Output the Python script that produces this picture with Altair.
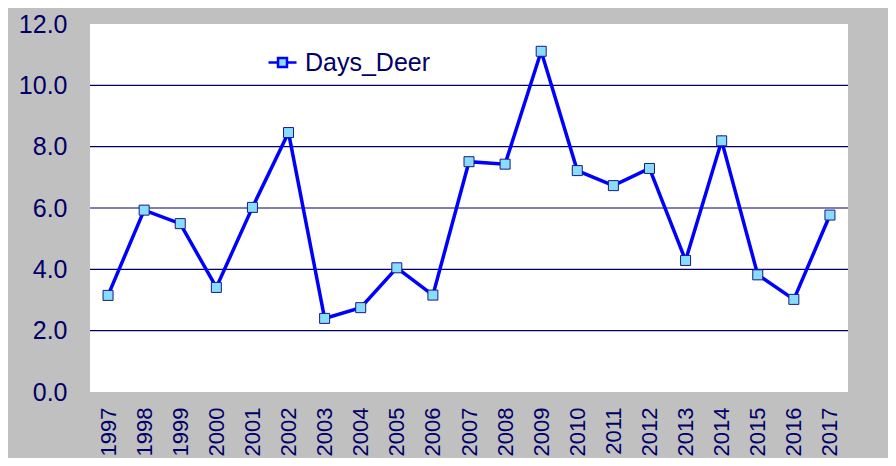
import altair as alt
import pandas as pd

years = [str(y) for y in range(1997, 2018)]
days_deer = [3.15, 5.93, 5.49, 3.41, 6.02, 8.46, 2.40, 2.75, 4.05, 3.16,
             7.51, 7.43, 11.11, 7.22, 6.73, 7.29, 4.29, 8.19, 3.82, 3.02, 5.77]
series_name = "Days_Deer"
y_ticks = [0, 2, 4, 6, 8, 10, 12]
grid_values = [2, 4, 6, 8, 10]

df = pd.DataFrame({"year": years, "value": days_deer, "series": series_name})
grid_df = pd.DataFrame({"g": grid_values})

NAVY = "#000066"
FONT = "Liberation Sans"

x_enc = alt.X("year:O", sort=years,
              scale=alt.Scale(type="point", padding=0.5),
              axis=alt.Axis(title=None, labelAngle=270, labelPadding=15,
                            labelFontSize=22, labelColor=NAVY, labelFont=FONT,
                            ticks=False, domain=False, grid=False))
y_scale = alt.Scale(domain=[0, 12], nice=False, zero=True)

grid = alt.Chart(grid_df).mark_rule(color=NAVY, strokeWidth=1.2).encode(
    y=alt.Y("g:Q", scale=y_scale,
            axis=alt.Axis(title=None, values=y_ticks, format=".1f",
                          labelFontSize=25, labelColor=NAVY, labelFont=FONT,
                          labelPadding=23, ticks=False, domain=False, grid=False))
)

line = alt.Chart(df).mark_line(color="#0000FF", strokeWidth=3.5).encode(
    x=x_enc,
    y=alt.Y("value:Q", scale=y_scale),
)

legend_shape = "M-1,0L-0.32,0M0.32,0L1,0M-0.32,-0.32H0.32V0.32H-0.32Z"

points = alt.Chart(df).mark_point(shape="square", filled=True, size=100,
                                  opacity=1, stroke="#1A1A80", strokeWidth=1).encode(
    x=x_enc,
    y=alt.Y("value:Q", scale=y_scale),
    fill=alt.Fill("series:N",
                  scale=alt.Scale(domain=[series_name], range=["#88DDFF"]),
                  legend=alt.Legend(title=None, orient="none", legendX=177, legendY=23,
                                    symbolType=legend_shape, symbolSize=784,
                                    symbolStrokeColor="#0000FF", symbolStrokeWidth=2.5,
                                    symbolFillColor="#88DDFF",
                                    labelFontSize=25, labelColor=NAVY, labelFont=FONT,
                                    labelOffset=7, padding=0)),
)

chart = alt.layer(grid, line, points).properties(
    width=758, height=368,
    background="#C0C0C0",
    padding={"left": 82, "top": 16, "right": 40, "bottom": 66},
    autosize=alt.AutoSizeParams(type="none"),
).configure_view(fill="white", stroke=None)

chart.save("out.html", embed_options={"renderer": "svg", "actions": False})
